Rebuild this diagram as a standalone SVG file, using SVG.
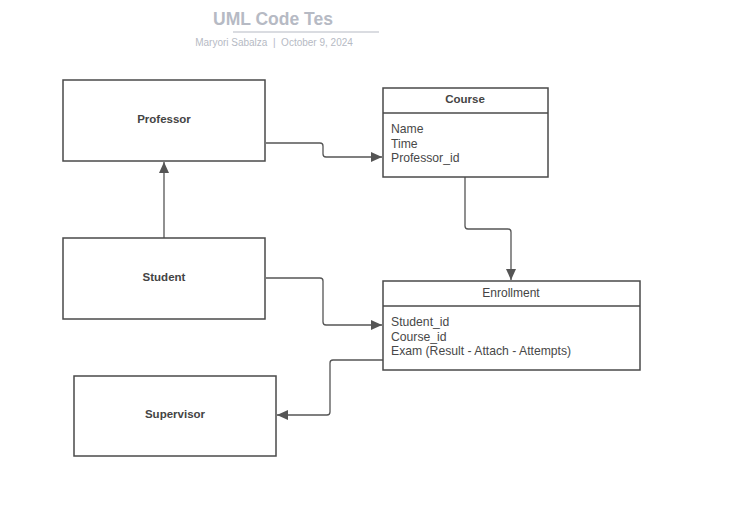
<svg xmlns="http://www.w3.org/2000/svg" width="750" height="514" viewBox="0 0 750 514">
<style>
.box{fill:#fff;stroke:#4a4a4a;stroke-width:1.5}
.hl{stroke:#4a4a4a;stroke-width:1.5}
.t{font-family:"Liberation Sans",Arial,sans-serif;fill:#444;font-size:12px}
.b{font-weight:bold;text-anchor:middle;font-size:11.5px}
.c{text-anchor:middle}
.f{fill:#484848;font-size:12.2px}
.ln{fill:none;stroke:#555;stroke-width:1.3}
</style>
<defs>
<marker id="ar" markerWidth="12" markerHeight="10" refX="11" refY="5" orient="auto" markerUnits="userSpaceOnUse">
<path d="M0,0 L11,5 L0,10 Z" fill="#555"/>
</marker>
</defs>
<rect width="750" height="514" fill="#fff"/>
<g id="title">
<text x="273" y="25" text-anchor="middle" font-family="Liberation Sans,Arial,sans-serif" font-weight="bold" font-size="17.5" fill="#b6bac4">UML Code Tes</text>
<line x1="233" y1="32" x2="379" y2="32" stroke="#b6bac4" stroke-width="1.2"/>
<text x="274" y="46" text-anchor="middle" font-family="Liberation Sans,Arial,sans-serif" font-size="10" fill="#b6bac4">Maryori Sabalza&#160;&#160;|&#160;&#160;October 9, 2024</text>
</g>
<g id="connectors">
<path class="ln" d="M266,143 H320 Q323,143 323,146 V154 Q323,157 326,157 H382" marker-end="url(#ar)"/>
<path class="ln" d="M465,177 V226 Q465,229 468,229 H508 Q511,229 511,232 V280" marker-end="url(#ar)"/>
<path class="ln" d="M164,238 V162" marker-end="url(#ar)"/>
<path class="ln" d="M266,278 H320 Q323,278 323,281 V322 Q323,325 326,325 H382" marker-end="url(#ar)"/>
<path class="ln" d="M383,360 H333 Q330,360 330,363 V412 Q330,415 327,415 H277" marker-end="url(#ar)"/>
</g>
<g id="professor">
<rect class="box" x="63" y="80" width="202" height="81"/>
<text class="t b" x="164" y="123">Professor</text>
</g>
<g id="student">
<rect class="box" x="63" y="238" width="202" height="81"/>
<text class="t b" x="164" y="281">Student</text>
</g>
<g id="supervisor">
<rect class="box" x="74" y="376" width="202" height="80"/>
<text class="t b" x="175" y="418">Supervisor</text>
</g>
<g id="course">
<rect class="box" x="383" y="88" width="165" height="89"/>
<line class="hl" x1="383" y1="113" x2="548" y2="113"/>
<text class="t b" x="465" y="103">Course</text>
<text class="t f" x="391" y="133">Name</text>
<text class="t f" x="391" y="147.5">Time</text>
<text class="t f" x="391" y="162">Professor_id</text>
</g>
<g id="enrollment">
<rect class="box" x="383" y="281" width="257" height="89"/>
<line class="hl" x1="383" y1="306" x2="640" y2="306"/>
<text class="t c" x="511" y="297">Enrollment</text>
<text class="t f" x="391" y="326">Student_id</text>
<text class="t f" x="391" y="340.5">Course_id</text>
<text class="t f" x="391" y="355">Exam (Result - Attach - Attempts)</text>
</g>
</svg>
